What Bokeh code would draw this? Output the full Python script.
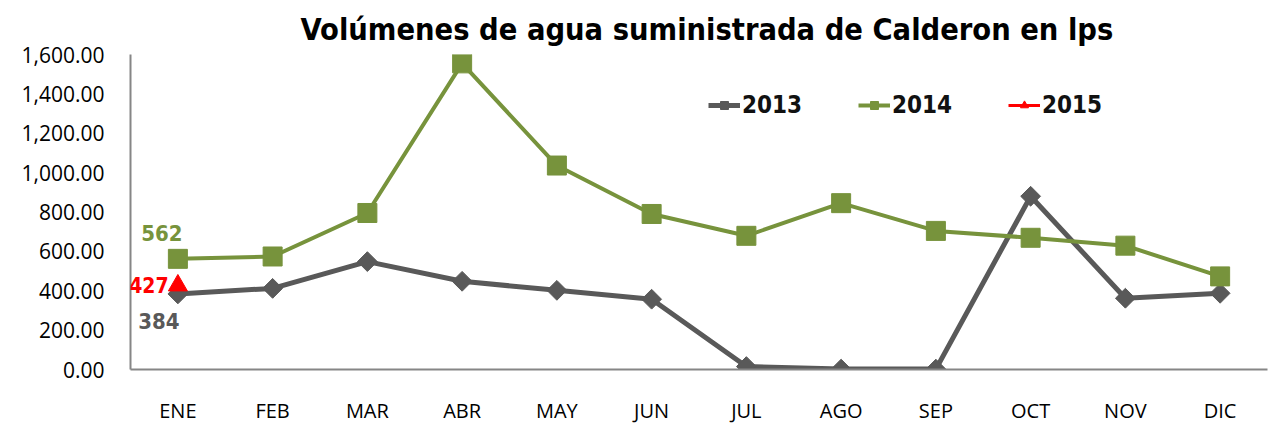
import math
from bokeh.plotting import figure
from bokeh.core.properties import value
from bokeh.models import (Range1d, FixedTicker, NumeralTickFormatter, Legend, LegendItem,
                          LabelSet, ColumnDataSource, Title)
from bokeh.embed import file_html
from bokeh.resources import INLINE

months = ["ENE", "FEB", "MAR", "ABR", "MAY", "JUN", "JUL", "AGO", "SEP", "OCT", "NOV", "DIC"]
v2013 = [384, 412, 548, 448, 402, 357, 15, 2, 2, 880, 362, 387]
v2014 = [562, 574, 795, 1555, 1036, 790, 679, 845, 704, 669, 629, 473]
v2015 = [427]
y_ticks = [0, 200, 400, 600, 800, 1000, 1200, 1400, 1600]
title_text = "Volúmenes de agua suministrada de Calderon en  lps"

GREY = "#595959"
GREEN = "#77933C"
RED = "#FF0000"
NARROW = "DejaVu Sans Condensed"
BASE = "Open Sans"

xs = list(range(len(months)))

p = figure(width=1268, height=426, output_backend="svg", toolbar_location=None,
           x_range=Range1d(-0.5, 11.5), y_range=Range1d(0, 1600),
           min_border_left=130, min_border_right=1, min_border_top=54, min_border_bottom=54)
p.outline_line_color = None
p.grid.visible = False

p.title = Title(text=title_text, align="left", text_font=NARROW, text_font_style="bold",
                text_font_size="30.5px", text_color="black", offset=170, standoff=16)

# axes
p.xaxis.ticker = FixedTicker(ticks=xs)
p.xaxis.major_label_overrides = {i: m for i, m in enumerate(months)}
p.yaxis.ticker = FixedTicker(ticks=y_ticks)
p.yaxis.formatter = NumeralTickFormatter(format="0,0.00")
for ax in (p.xaxis, p.yaxis):
    ax.axis_line_color = "#868686"
    ax.axis_line_width = 2
    ax.major_tick_line_color = None
    ax.minor_tick_line_color = None
    ax.major_tick_out = 0
    ax.major_tick_in = 0
    ax.major_label_text_font = BASE
    ax.major_label_text_color = "black"
p.xaxis.major_label_text_font_size = "20px"
p.yaxis.major_label_text_font_size = "21px"
p.yaxis.major_label_standoff = 26
p.xaxis.major_label_standoff = 27

# series
l13 = p.line(xs, v2013, line_color=GREY, line_width=5)
s13 = p.scatter(xs, v2013, marker="square", angle=math.pi / 4, size=14,
                fill_color=GREY, line_color=GREY)
l14 = p.line(xs, v2014, line_color=GREEN, line_width=4)
s14 = p.scatter(xs, v2014, marker="square", size=19, fill_color=GREEN, line_color=GREEN)
x15 = xs[:len(v2015)]
l15 = p.line(x15, v2015, line_color=RED, line_width=3)
s15 = p.scatter(x15, v2015, marker="triangle", size=19, fill_color=RED, line_color=RED)

# data labels
def add_label(x, y, txt, color, dx, dy, fs="22px"):
    src = ColumnDataSource(dict(x=[x], y=[y], t=[txt]))
    p.add_layout(LabelSet(x="x", y="y", text="t", source=src, x_offset=dx, y_offset=dy,
                          text_align="center", text_baseline="middle", text_color=color,
                          text_font=value(NARROW), text_font_style="bold",
                          text_font_size=fs))

add_label(0, v2014[0], str(v2014[0]), GREEN, -16, 26)
add_label(0, v2015[0], str(v2015[0]), RED, -29, 0, "21px")
add_label(0, v2013[0], str(v2013[0]), GREY, -19, -27)

legend = Legend(items=[LegendItem(label="2013", renderers=[l13, s13]),
                       LegendItem(label="2014", renderers=[l14, s14]),
                       LegendItem(label="2015", renderers=[l15, s15])],
                orientation="horizontal", location=(578, 250),
                glyph_width=32, glyph_height=20, label_standoff=2, label_width=100, spacing=16,
                padding=0, margin=0, border_line_color=None, background_fill_alpha=0,
                label_text_font=NARROW, label_text_font_style="bold", label_text_font_size="24px",
                label_text_color="#111111", label_text_baseline="middle")
p.add_layout(legend)

open("out.html", "w").write(file_html(p, INLINE))
